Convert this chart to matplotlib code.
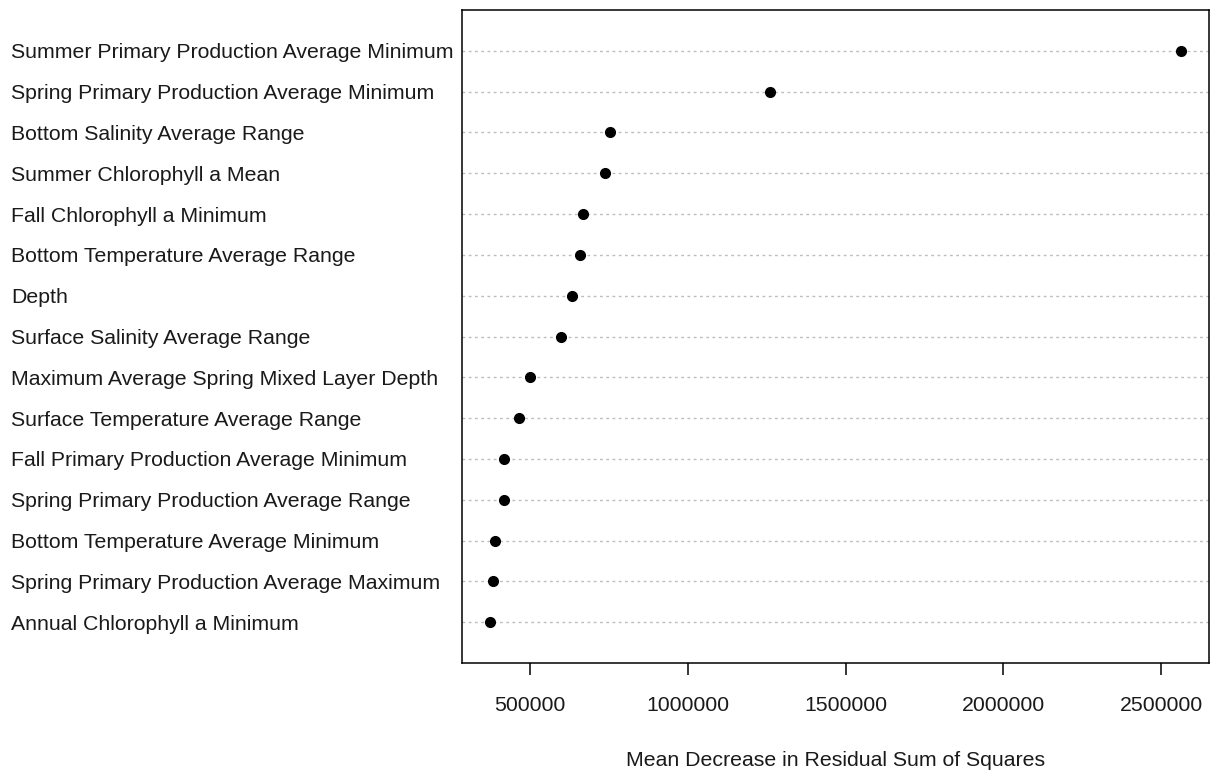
import numpy as np
import matplotlib.pyplot as plt
from matplotlib.transforms import blended_transform_factory

plt.rcParams['font.family'] = ['Liberation Sans', 'DejaVu Sans']

# variable importance, listed bottom to top as in the dot chart
variables = [
    "Annual Chlorophyll a Minimum",
    "Spring Primary Production Average Maximum",
    "Bottom Temperature Average Minimum",
    "Spring Primary Production Average Range",
    "Fall Primary Production Average Minimum",
    "Surface Temperature Average Range",
    "Maximum Average Spring Mixed Layer Depth",
    "Surface Salinity Average Range",
    "Depth",
    "Bottom Temperature Average Range",
    "Fall Chlorophyll a Minimum",
    "Summer Chlorophyll a Mean",
    "Bottom Salinity Average Range",
    "Spring Primary Production Average Minimum",
    "Summer Primary Production Average Minimum",
]
importance = [
    372000, 382500, 389000, 418500, 418000,
    465000, 500000, 599000, 634000, 659000,
    667000, 737000, 753000, 1259000, 2563800,
]
xticks = [500000, 1000000, 1500000, 2000000, 2500000]

fs = 15.3
fig = plt.figure(figsize=(12.14, 7.7), dpi=100)
ax = fig.add_axes([462 / 1214, 1 - 663 / 770, (1209 - 462) / 1214, (663 - 10) / 770])

y = np.arange(1, len(variables) + 1)
for yi in y:
    ax.axhline(yi, color='#bdbdbd', lw=1.0, ls=(0, (2, 2.5)), zorder=1)
ax.plot(importance, y, 'o', color='black', ms=7, zorder=3)

span = max(importance) - min(importance)
ax.set_xlim(min(importance) - 0.04 * span, max(importance) + 0.04 * span)
ax.set_ylim(0, len(variables) + 1)

ax.set_yticks([])
ax.set_xticks(xticks)
ax.set_xticklabels([str(v) for v in xticks], fontsize=fs, color='#1a1a1a')
ax.tick_params(axis='x', direction='out', length=8.6, width=1.1, pad=15)
for s in ax.spines.values():
    s.set_linewidth(1.1)

# left-aligned row labels in the outer margin
tr = blended_transform_factory(fig.transFigure, ax.transData)
for yi, name in zip(y, variables):
    ax.text(11 / 1214, yi, name, transform=tr, ha='left', va='center_baseline',
            fontsize=fs, color='#1a1a1a')

fig.text((462 + 1209) / 2 / 1214, 1 - 758 / 770, "Mean Decrease in Residual Sum of Squares",
         ha='center', va='center_baseline', fontsize=fs, color='#1a1a1a')

fig.savefig('out.png', dpi=100)
